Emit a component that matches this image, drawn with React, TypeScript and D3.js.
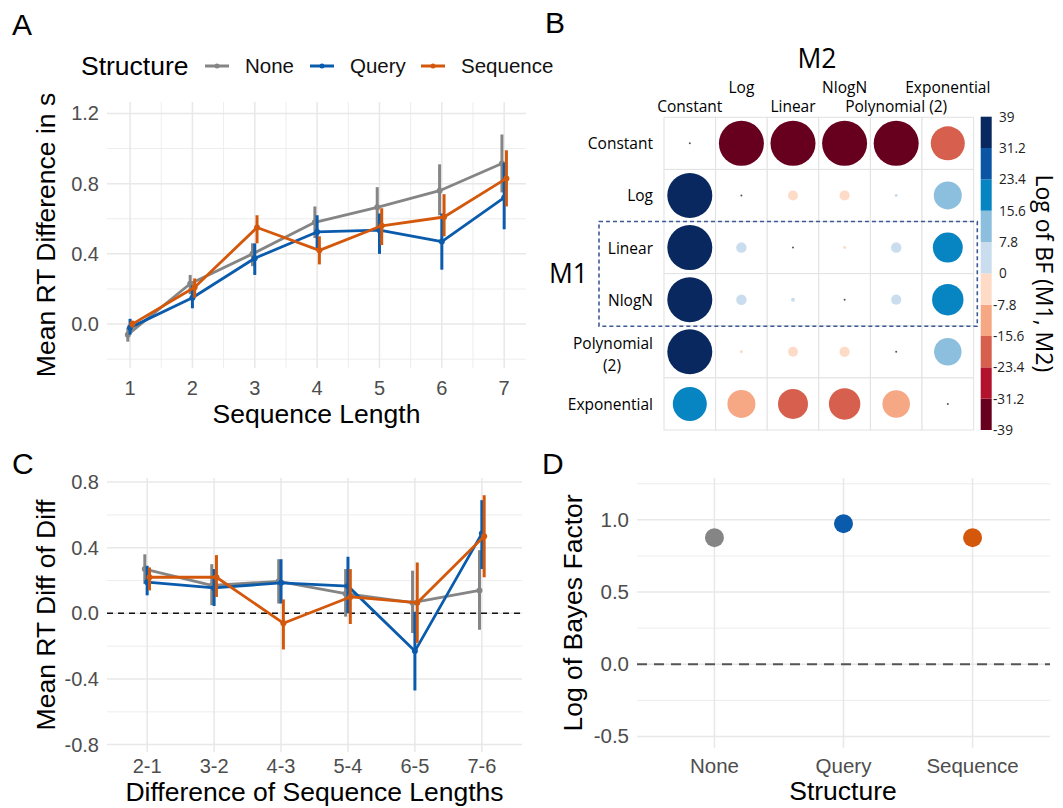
import React from "react";
import * as d3 from "d3";

const W = 1063;
const H = 808;

// ---------- shared ----------
const structures = ["None", "Query", "Sequence"];
const structureColors = ["#858585", "#0b5bac", "#d4580b"];

// ---------- panel A: mean RT difference per sequence length ----------
const seqLengths = [1, 2, 3, 4, 5, 6, 7];
const noneMean = [-0.06, 0.23, 0.4, 0.58, 0.665, 0.76, 0.915];
const noneLo = [-0.1, 0.17, 0.33, 0.49, 0.55, 0.62, 0.75];
const noneHi = [-0.02, 0.28, 0.46, 0.67, 0.78, 0.91, 1.08];
const queryMean = [-0.02, 0.15, 0.375, 0.525, 0.535, 0.47, 0.72];
const queryLo = [-0.06, 0.09, 0.28, 0.43, 0.4, 0.31, 0.54];
const queryHi = [0.03, 0.22, 0.46, 0.62, 0.63, 0.63, 0.92];
const seqMean = [0.0, 0.21, 0.55, 0.42, 0.56, 0.61, 0.83];
const seqLo = [-0.02, 0.15, 0.46, 0.34, 0.45, 0.5, 0.67];
const seqHi = [0.02, 0.26, 0.62, 0.5, 0.66, 0.74, 0.99];
const yTicksA = [0, 0.4, 0.8, 1.2];
const yMinorA = [-0.2, 0.2, 0.6, 1.0];
const xMinorA = [1.5, 2.5, 3.5, 4.5, 5.5, 6.5];

// ---------- panel C: difference of differences ----------
const diffLabels = ["2-1", "3-2", "4-3", "5-4", "6-5", "7-6"];
const noneDiff = [0.27, 0.17, 0.195, 0.12, 0.065, 0.14];
const noneDiffLo = [0.18, 0.05, 0.06, -0.02, -0.12, -0.1];
const noneDiffHi = [0.36, 0.3, 0.33, 0.27, 0.26, 0.385];
const queryDiff = [0.19, 0.155, 0.186, 0.166, -0.23, 0.486];
const queryDiffLo = [0.11, 0.045, 0.06, 0.0, -0.47, 0.27];
const queryDiffHi = [0.29, 0.27, 0.33, 0.345, 0.01, 0.69];
const seqDiff = [0.22, 0.22, -0.06, 0.1, 0.065, 0.47];
const seqDiffLo = [0.14, 0.1, -0.22, -0.065, -0.18, 0.22];
const seqDiffHi = [0.28, 0.355, 0.085, 0.27, 0.31, 0.72];
const yTicksC = [-0.8, -0.4, 0, 0.4, 0.8];
const yMinorC = [-0.6, -0.2, 0.2, 0.6];

// ---------- panel D: log Bayes factor per structure ----------
const logBayes = [0.877, 0.974, 0.877];
const yTicksD = [-0.5, 0, 0.5, 1.0];
const yMinorD = [-0.25, 0.25, 0.75, 1.25];

// ---------- panel B: model comparison matrix (rows M1, cols M2) ----------
const models = ["Constant", "Log", "Linear", "NlogN", "Polynomial (2)", "Exponential"];
const bfConstant = [0, -39, -39, -39, -39, -22.3];
const bfLog = [39, 0, -1.9, -2.0, 0.17, 15.1];
const bfLinear = [39, 2.1, 0, -0.17, 2.1, 17.3];
const bfNlogN = [39, 2.1, 0.3, 0, 2.0, 19.0];
const bfPoly = [39, -0.17, -1.9, -2.0, 0, 14.6];
const bfExp = [22.3, -15.1, -17.3, -19.0, -14.6, 0];
const bfColors = [
  "#67001f", "#b2122b", "#d6604d", "#f6a784", "#fddbc7",
  "#c9ddee", "#8cbedd", "#0784c2", "#0b56a4", "#08285f",
];
const cbTicks = [39, 31.2, 23.4, 15.6, 7.8, 0, -7.8, -15.6, -23.4, -31.2, -39];

// plain hyphen minus like the original
const fmt1 = (v: number) => v.toFixed(1);
const TICK = "#4d4d4d";
const GRID = "#e8e8e8";

type Series = { color: string; mean: number[]; lo: number[]; hi: number[] };

const LinePanel = ({ x, y, xVals, xLabels, xMinor, yTicks, yMinor, series, dodge, xTitle, yTitle, tickY, xTitleY, zeroLine }: any) => {
  const [left, right] = x.range();
  const [bottom, top] = y.range();
  return (
    <g>
      {yMinor.map((v: number) => (
        <line key={"ym" + v} x1={left} x2={right} y1={y(v)} y2={y(v)} stroke={GRID} strokeWidth={0.8} />
      ))}
      {xMinor.map((v: number) => (
        <line key={"xm" + v} x1={x(v)} x2={x(v)} y1={top} y2={bottom} stroke={GRID} strokeWidth={0.8} />
      ))}
      {yTicks.map((v: number) => (
        <line key={"yg" + v} x1={left} x2={right} y1={y(v)} y2={y(v)} stroke={GRID} strokeWidth={1.5} />
      ))}
      {xVals.map((v: number) => (
        <line key={"xg" + v} x1={x(v)} x2={x(v)} y1={top} y2={bottom} stroke={GRID} strokeWidth={1.5} />
      ))}
      {zeroLine && (
        <line x1={left} x2={right} y1={y(0)} y2={y(0)} stroke="#111" strokeWidth={1.5} strokeDasharray="6,5" />
      )}
      {series.map((s: Series, si: number) => {
        const off = dodge[si];
        const path = d3
          .line<number>()
          .x((_, i) => x(xVals[i] + off))
          .y((d) => y(d))(s.mean);
        return (
          <g key={"s" + si}>
            {s.mean.map((_, i) => (
              <line key={"e" + i} x1={x(xVals[i] + off)} x2={x(xVals[i] + off)} y1={y(s.lo[i])} y2={y(s.hi[i])}
                stroke={s.color} strokeWidth={3} />
            ))}
            <path d={path || ""} fill="none" stroke={s.color} strokeWidth={2.8} strokeLinejoin="round" />
            {s.mean.map((d, i) => (
              <circle key={"p" + i} cx={x(xVals[i] + off)} cy={y(d)} r={3} fill={s.color} />
            ))}
          </g>
        );
      })}
      {yTicks.map((v: number) => (
        <text key={"yt" + v} x={left - 8} y={y(v) + 7} fontSize={20} fill={TICK} textAnchor="end">
          {fmt1(v)}
        </text>
      ))}
      {xVals.map((v: number, i: number) => (
        <text key={"xt" + v} x={x(v)} y={tickY} fontSize={20} fill={TICK} textAnchor="middle">
          {xLabels[i]}
        </text>
      ))}
      <text x={(left + right) / 2} y={xTitleY} fontSize={26.5} textAnchor="middle">{xTitle}</text>
      <text transform={`translate(55,${(top + bottom) / 2}) rotate(-90)`} fontSize={26.5} textAnchor="middle">
        {yTitle}
      </text>
    </g>
  );
};

const PanelA = () => {
  const x = d3.scaleLinear().domain([0.63, 7.35]).range([107, 526]);
  const y = d3.scaleLinear().domain([-0.25, 1.265]).range([368, 102]);
  const series: Series[] = [
    { color: structureColors[0], mean: noneMean, lo: noneLo, hi: noneHi },
    { color: structureColors[1], mean: queryMean, lo: queryLo, hi: queryHi },
    { color: structureColors[2], mean: seqMean, lo: seqLo, hi: seqHi },
  ];
  const keyX = [205, 310, 421];
  return (
    <g>
      <LinePanel x={x} y={y} xVals={seqLengths} xLabels={seqLengths.map(String)} xMinor={xMinorA}
        yTicks={yTicksA} yMinor={yMinorA} series={series} dodge={[-0.036, 0, 0.036]}
        xTitle="Sequence Length" yTitle="Mean RT Difference in s" tickY={395} xTitleY={423} zeroLine={false} />
      <text x={81} y={75} fontSize={26.5}>Structure</text>
      {structures.map((s, i) => (
        <g key={s}>
          <line x1={keyX[i]} x2={keyX[i] + 24} y1={66} y2={66} stroke={structureColors[i]} strokeWidth={3} />
          <circle cx={keyX[i] + 12} cy={66} r={2.5} fill={structureColors[i]} />
          <text x={keyX[i] + 40} y={73} fontSize={20.5} fill="#111">{s}</text>
        </g>
      ))}
    </g>
  );
};

const PanelC = () => {
  const x = d3.scaleLinear().domain([0.4, 6.6]).range([107, 522]);
  const y = d3.scaleLinear().domain([-0.845, 0.825]).range([752, 478]);
  const series: Series[] = [
    { color: structureColors[0], mean: noneDiff, lo: noneDiffLo, hi: noneDiffHi },
    { color: structureColors[1], mean: queryDiff, lo: queryDiffLo, hi: queryDiffHi },
    { color: structureColors[2], mean: seqDiff, lo: seqDiffLo, hi: seqDiffHi },
  ];
  return (
    <LinePanel x={x} y={y} xVals={diffLabels.map((_, i) => i + 1)} xLabels={diffLabels} xMinor={[]}
      yTicks={yTicksC} yMinor={yMinorC} series={series} dodge={[-0.035, 0, 0.035]}
      xTitle="Difference of Sequence Lengths" yTitle="Mean RT Diff of Diff" tickY={773} xTitleY={801} zeroLine={true} />
  );
};

const PanelD = () => {
  const x = d3.scaleLinear().domain([0.4, 3.6]).range([637, 1050]);
  const y = d3.scaleLinear().domain([-0.58, 1.29]).range([748, 478]);
  const xs = structures.map((_, i) => i + 1);
  return (
    <g>
      {yMinorD.map((v) => (
        <line key={"m" + v} x1={637} x2={1050} y1={y(v)} y2={y(v)} stroke={GRID} strokeWidth={0.8} />
      ))}
      {yTicksD.map((v) => (
        <line key={"g" + v} x1={637} x2={1050} y1={y(v)} y2={y(v)} stroke={GRID} strokeWidth={1.5} />
      ))}
      {xs.map((v) => (
        <line key={"v" + v} x1={x(v)} x2={x(v)} y1={478} y2={748} stroke={GRID} strokeWidth={1.5} />
      ))}
      <line x1={637} x2={1050} y1={y(0)} y2={y(0)} stroke="#555" strokeWidth={2} strokeDasharray="10,7" />
      {logBayes.map((v, i) => (
        <circle key={"p" + i} cx={x(xs[i])} cy={y(v)} r={9.5} fill={structureColors[i]} />
      ))}
      {yTicksD.map((v) => (
        <text key={"t" + v} x={629} y={y(v) + 7} fontSize={20.5} fill={TICK} textAnchor="end">{fmt1(v)}</text>
      ))}
      {structures.map((s, i) => (
        <text key={s} x={x(xs[i])} y={773} fontSize={20.5} fill={TICK} textAnchor="middle">{s}</text>
      ))}
      <text x={843} y={800} fontSize={26.5} textAnchor="middle">Structure</text>
      <text transform={`translate(582,${(478 + 748) / 2}) rotate(-90)`} fontSize={26.5} textAnchor="middle">
        Log of Bayes Factor
      </text>
    </g>
  );
};

const PanelB = () => {
  const rows = [bfConstant, bfLog, bfLinear, bfNlogN, bfPoly, bfExp];
  const x = d3.scaleBand().domain(models).range([664, 973.6]);
  const y = d3.scaleBand().domain(models).range([117.3, 430]);
  const bw = x.bandwidth();
  const bh = y.bandwidth();
  const color = d3.scaleQuantize<string>().domain([-39, 39]).range(bfColors);
  const radius = d3.scaleSqrt().domain([0, 39]).range([0, 22.5]);
  const cb = d3.scaleLinear().domain([-39, 39]).range([430, 116.7]);
  const step = 78 / bfColors.length;
  const font = "'Open Sans', 'Noto Sans', sans-serif";
  return (
    <g fontFamily={font}>
      {models.map((m) => (
        <g key={"grid" + m}>
          {models.map((n) => (
            <rect key={n} x={x(n)} y={y(m)} width={bw} height={bh} fill="#fff" stroke="#e2e2e2" strokeWidth={1} />
          ))}
        </g>
      ))}
      {rows.map((row, ri) =>
        row.map((v, ci) => (
          <circle key={ri + "-" + ci} cx={(x(models[ci]) as number) + bw / 2} cy={(y(models[ri]) as number) + bh / 2}
            r={Math.max(radius(Math.abs(v)), 1)} fill={v === 0 ? "#555" : color(v)} />
        ))
      )}
      {models.map((m, i) => (
        <text key={"c" + m} x={(x(m) as number) + bw / 2} y={i % 2 === 0 ? 112 : 93} fontSize={15.5}
          textAnchor="middle">{m}</text>
      ))}
      {models.map((m) =>
        m === "Polynomial (2)" ? (
          <g key={"r" + m}>
            <text x={653} y={(y(m) as number) + bh / 2 - 3} fontSize={15.5} textAnchor="end">Polynomial</text>
            <text x={612} y={(y(m) as number) + bh / 2 + 19} fontSize={15.5} textAnchor="middle">(2)</text>
          </g>
        ) : (
          <text key={"r" + m} x={653} y={(y(m) as number) + bh / 2 + 6} fontSize={15.5} textAnchor="end">{m}</text>
        )
      )}
      <rect x={599} y={y("Linear")} width={378.3} height={2 * bh + 0.5} fill="none" stroke="#3d5a96"
        strokeWidth={1.6} strokeDasharray="4,3" />
      <text x={817} y={68} fontSize={26.5} textAnchor="middle">M2</text>
      <text x={549} y={283} fontSize={26.5}>M1</text>
      {bfColors.map((c, i) => (
        <rect key={"cb" + i} x={980.7} y={cb(-39 + (i + 1) * step)} width={11} height={cb(-39 + i * step) - cb(-39 + (i + 1) * step)}
          fill={c} />
      ))}
      {cbTicks.map((t) => (
        <text key={"cbt" + t} x={t < 0 ? 993 : 999} y={cb(t) + 5} fontSize={13.6} fill="#222">{String(t)}</text>
      ))}
      <text transform={`translate(1036,${cb(0)}) rotate(90)`} fontSize={23} textAnchor="middle">
        Log of BF (M1, M2)
      </text>
    </g>
  );
};

export default function App() {
  return (
    <svg width={W} height={H} style={{ position: "absolute", left: 0, top: 0, background: "#fff" }}
      fontFamily="'Liberation Sans', Arial, sans-serif">
      <rect width={W} height={H} fill="#fff" />
      <PanelA />
      <PanelB />
      <PanelC />
      <PanelD />
      <text x={12} y={35} fontSize={30}>A</text>
      <text x={545} y={33} fontSize={30}>B</text>
      <text x={12} y={474} fontSize={30}>C</text>
      <text x={542} y={474} fontSize={30}>D</text>
    </svg>
  );
}
